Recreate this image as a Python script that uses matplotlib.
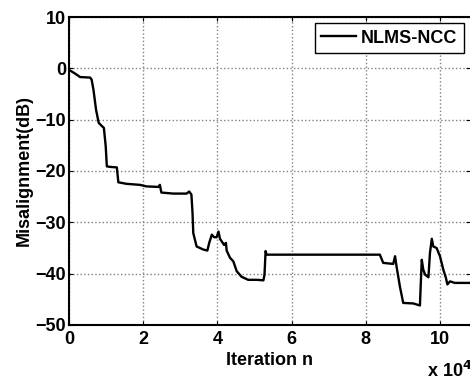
import matplotlib
matplotlib.use('Agg')
import matplotlib.pyplot as plt

plt.rcParams['font.family'] = ['Liberation Sans', 'DejaVu Sans']
plt.rcParams['font.weight'] = 'bold'

# iteration (x 10^4) and misalignment (dB)
iters = [0, 0.16, 0.30, 0.57, 0.61, 0.66, 0.73, 0.80, 0.88, 0.94, 0.99, 1.02,
         1.11, 1.29, 1.33, 1.55, 1.91, 2.09, 2.41, 2.45, 2.49, 2.81, 3.17, 3.24,
         3.30, 3.33, 3.35, 3.44, 3.62, 3.73, 3.78, 3.85, 3.91, 3.98, 4.03, 4.07,
         4.18, 4.23, 4.25, 4.34, 4.43, 4.52, 4.65, 4.83, 5.06, 5.24, 5.27, 5.30,
         5.33, 8.38, 8.47, 8.74, 8.79, 8.83, 8.92, 9.01, 9.28, 9.46, 9.48, 9.51,
         9.55, 9.60, 9.69, 9.73, 9.78, 9.82, 9.91, 10.0, 10.09, 10.16, 10.20,
         10.27, 10.40, 10.85]
misalign = [-0.3, -1.0, -1.7, -1.8, -2.2, -4.2, -8.1, -10.6, -11.2, -11.6, -15.2, -19.1,
            -19.2, -19.3, -22.2, -22.5, -22.7, -23.0, -23.1, -22.7, -24.2, -24.4, -24.4, -24.0,
            -24.6, -28.2, -32.1, -34.7, -35.3, -35.5, -34.0, -32.4, -32.9, -32.9, -31.8, -33.2,
            -34.4, -34.0, -35.5, -36.9, -37.6, -39.5, -40.6, -41.2, -41.2, -41.3, -40.2, -35.6,
            -36.3, -36.3, -37.9, -38.1, -36.6, -38.6, -42.5, -45.7, -45.8, -46.2, -42.5, -37.3,
            -39.2, -40.2, -40.7, -36.0, -33.2, -34.7, -35.0, -36.6, -39.2, -40.8, -42.1,
            -41.5, -41.8, -41.8]

xticks = [0, 2, 4, 6, 8, 10]
yticks = [-50, -40, -30, -20, -10, 0, 10]

fig = plt.figure(figsize=(4.7, 3.78), dpi=100)
ax = fig.add_axes([69 / 470, 1 - 325 / 378, 1 - 69 / 470, (325 - 17) / 378])

ax.plot(iters, misalign, color='black', linewidth=1.7, label='NLMS-NCC')

ax.set_xlim(0, 10.81)
ax.set_ylim(-50, 10)
ax.set_xticks(xticks)
ax.set_yticks(yticks)
ax.grid(True, color='#808080', linestyle=':', linewidth=1.0)
ax.tick_params(direction='in', length=3, width=0.8, labelsize=13, pad=2,
               top=True, right=True)
ax.tick_params(axis='x', pad=4)
for lab in ax.get_xticklabels() + ax.get_yticklabels():
    lab.set_fontweight('bold')
for side in ['left', 'bottom', 'top']:
    ax.spines[side].set_linewidth(1.5)
ax.spines['right'].set_visible(False)

ax.set_xlabel('Iteration n', fontsize=13, fontweight='bold', labelpad=3)
ax.set_ylabel('Misalignment(dB)', fontsize=13, fontweight='bold', labelpad=2)
fig.text(427 / 470, 1 - 371 / 378, r'x 10$^{\mathbf{4}}$', fontsize=13,
         fontweight='bold', va='center', ha='left')

leg = ax.legend(loc='upper right', fontsize=13, handlelength=1.9, handletextpad=0.3,
                borderpad=0.35, borderaxespad=0.35, fancybox=False, framealpha=1,
                edgecolor='black', prop={'weight': 'bold', 'size': 13})
leg.get_frame().set_linewidth(1.0)

fig.savefig('out.png', dpi=100)
